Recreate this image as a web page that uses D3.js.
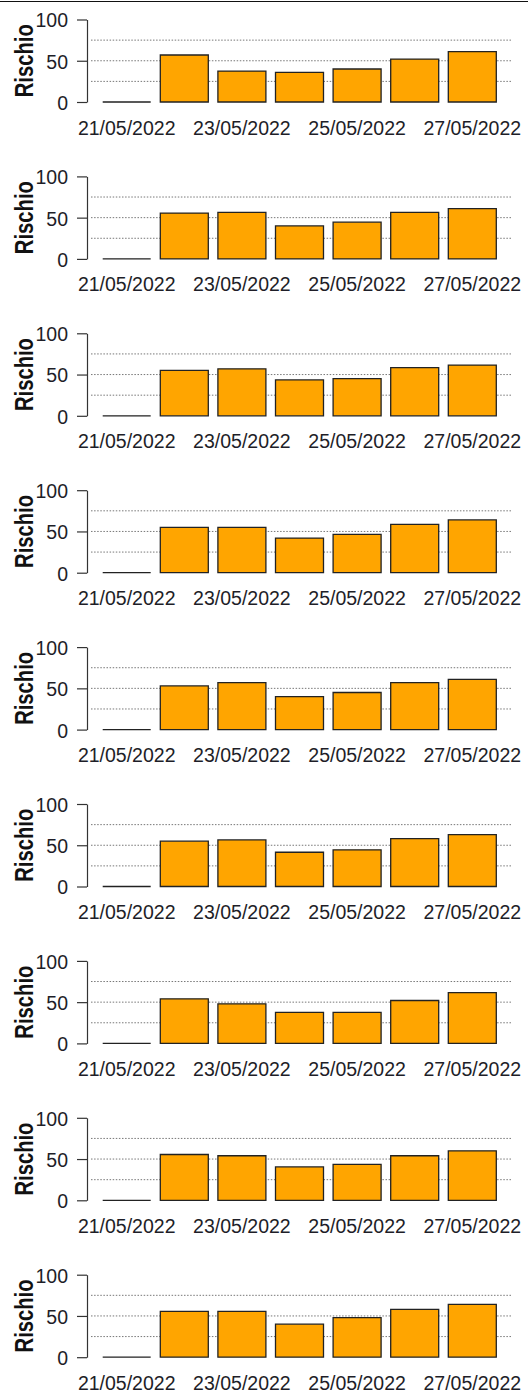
<!DOCTYPE html>
<html>
<head>
<meta charset="utf-8">
<script src="https://cdn.jsdelivr.net/npm/d3@7"></script>
<style>
  html, body { margin: 0; padding: 0; background: #ffffff; }
  svg { display: block; }
  text { font-family: "Liberation Sans", Arial, sans-serif; }
</style>
</head>
<body>
<div id="chart"></div>
<script>
// Dates on the x axis (one bar per day)
const dates = ["21/05/2022", "22/05/2022", "23/05/2022", "24/05/2022",
               "25/05/2022", "26/05/2022", "27/05/2022"];
// Which dates get a printed label
const labelledDates = ["21/05/2022", "23/05/2022", "25/05/2022", "27/05/2022"];
// Y axis ticks and dotted reference lines
const yTicks = [0, 50, 100];
const gridValues = [25, 50, 75];

// Daily risk values, one array per panel
const rischio1 = [0, 57, 37.5, 36, 40, 52, 61];
const rischio2 = [0, 55.5, 56.5, 40, 44.5, 56.5, 61];
const rischio3 = [0, 55, 57, 43.5, 45, 58.5, 61.5];
const rischio4 = [0, 55, 55, 42, 46.5, 58.5, 64];
const rischio5 = [0, 53, 57, 40, 45, 57, 61];
const rischio6 = [0, 55, 56.5, 41.5, 44.5, 58, 63];
const rischio7 = [0, 54, 48, 37.5, 37.5, 52, 61.5];
const rischio8 = [0, 55.5, 54, 40.5, 43.5, 54, 60];
const rischio9 = [0, 55.5, 55.5, 40, 48, 58, 64];

const panels = [rischio1, rischio2, rischio3, rischio4, rischio5,
                rischio6, rischio7, rischio8, rischio9];

const W = 531, H = 1395;
const panelStep = 156.9;   // vertical distance between panels
const zeroY = 102;         // baseline of the first panel
const topY = 19.5;         // y of the value 100 in the first panel
const axisX = 87;
const plotRight = 511;
const fontSize = 19.5;

const svg = d3.select("#chart").append("svg")
  .attr("width", W).attr("height", H);

// frame line along the top edge
svg.append("line")
  .attr("x1", 0).attr("x2", 528)
  .attr("y1", 1.5).attr("y2", 1.5)
  .attr("stroke", "#111").attr("stroke-width", 1.2);

const x = d3.scaleBand()
  .domain(dates)
  .range([102.7, 496.3])
  .paddingInner(0.2 / 1.2)
  .paddingOuter(0);

panels.forEach((values, i) => {
  const oy = i * panelStep;
  const y = d3.scaleLinear().domain([0, 100]).range([zeroY + oy, topY + oy]);
  const g = svg.append("g");

  // dotted reference lines
  g.selectAll("line.grid").data(gridValues).enter().append("line")
    .attr("class", "grid")
    .attr("x1", axisX + 4).attr("x2", plotRight)
    .attr("y1", d => y(d)).attr("y2", d => y(d))
    .attr("stroke", "#777").attr("stroke-width", 1)
    .attr("stroke-dasharray", "1.5,1.6");

  // bars (drawn as paths so that a zero value still shows its outline)
  g.selectAll("path.bar").data(values).enter().append("path")
    .attr("class", "bar")
    .attr("d", (d, j) => {
      const x0 = x(dates[j]);
      const w = x.bandwidth();
      const y0 = y(0), y1 = y(d);
      return `M${x0},${y0}V${y1}H${x0 + w}V${y0}Z`;
    })
    .attr("fill", "#FFA500")
    .attr("stroke", "#222")
    .attr("stroke-width", 1.3);

  // y axis
  const yAxis = d3.axisLeft(y)
    .tickValues(yTicks)
    .tickSize(10)
    .tickSizeOuter(0)
    .tickPadding(9)
    .tickFormat(d3.format("d"));
  const ya = g.append("g")
    .attr("transform", `translate(${axisX},0)`)
    .call(yAxis);
  ya.select(".domain").attr("stroke", "#333").attr("stroke-width", 1.2);
  ya.selectAll(".tick line").attr("stroke", "#333").attr("stroke-width", 1.2);
  ya.selectAll(".tick text")
    .attr("font-size", fontSize)
    .attr("fill", "#1e1e28")
    .attr("dy", "0.38em")
    .style("font-family", "'Liberation Sans', Arial, sans-serif");

  // x labels (every other date)
  const xAxis = d3.axisBottom(x)
    .tickValues(labelledDates)
    .tickSize(0)
    .tickPadding(18.7);
  const xa = g.append("g")
    .attr("transform", `translate(0,${zeroY + oy})`)
    .call(xAxis);
  xa.select(".domain").remove();
  xa.selectAll(".tick text")
    .attr("font-size", fontSize)
    .attr("fill", "#1e1e28")
    .style("font-family", "'Liberation Sans', Arial, sans-serif");

  // y axis title
  const cy = (y(0) + y(100)) / 2;
  g.append("text")
    .attr("transform", `translate(33.3,${cy}) rotate(-90)`)
    .attr("text-anchor", "middle")
    .attr("font-size", 25)
    .attr("font-weight", "bold")
    .attr("fill", "#111")
    .attr("textLength", 73)
    .attr("lengthAdjust", "spacingAndGlyphs")
    .text("Rischio");
});
</script>
</body>
</html>
